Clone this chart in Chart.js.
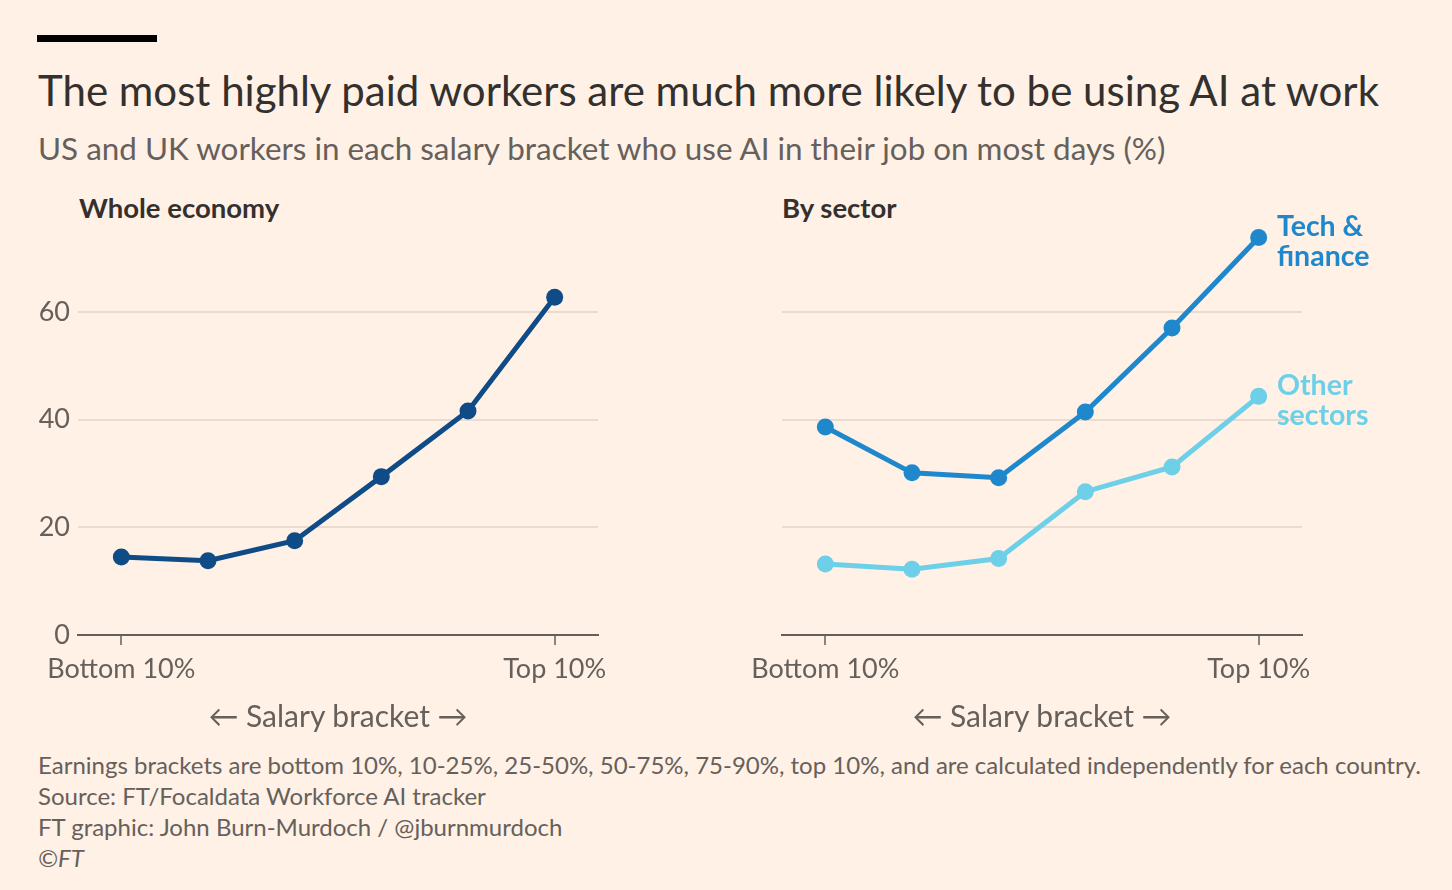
<!DOCTYPE html>
<html>
<head>
<meta charset="UTF-8">
<title>AI use by salary bracket</title>
<script src="https://cdn.jsdelivr.net/npm/chart.js"></script>
<style>
    body {
        margin: 0;
        background: #fff1e5;
        font-family: Lato, 'Open Sans', sans-serif;
        color: #33302e;
    }
    .page { position: relative; width: 1452px; height: 890px; overflow: hidden; }
    .bar { position: absolute; left: 37px; top: 35px; width: 120px; height: 7px; background: #000; }
    .title { position: absolute; left: 38px; top: 65px; font-size: 42px; white-space: nowrap; }
    .subtitle { position: absolute; left: 38px; top: 129px; font-size: 31.4px; color: #66605c; white-space: nowrap; }
    .panel-title { position: absolute; top: 191px; font-size: 27.5px; font-weight: bold; white-space: nowrap; }
    .axis-title { position: absolute; top: 697px; font-size: 30px; color: #66605c; white-space: nowrap; transform: translateX(-50%); }
    .label { position: absolute; left: 1277px; font-size: 28.5px; font-weight: bold; line-height: 30px; }
    .notes { position: absolute; left: 38px; top: 749px; font-size: 24px; line-height: 31px; color: #66605c; white-space: nowrap; }
    canvas { position: absolute; }
</style>
</head>
<body>
<div class="page">
    <div class="bar"></div>
    <div class="title">The most highly paid workers are much more likely to be using AI at work</div>
    <div class="subtitle">US and UK workers in each salary bracket who use AI in their job on most days (%)</div>
    <div class="panel-title" style="left:79px">Whole economy</div>
    <div class="panel-title" style="left:782px">By sector</div>

    <canvas id="leftChart" style="left:0px; top:200px; width:620px; height:500px"></canvas>
    <canvas id="rightChart" style="left:704px; top:200px; width:620px; height:500px"></canvas>

    <div class="axis-title" style="left:338px">&larr; Salary bracket &rarr;</div>
    <div class="axis-title" style="left:1042px">&larr; Salary bracket &rarr;</div>

    <div class="label" style="top:210px; color:#1f88cc">Tech &amp;<br>finance</div>
    <div class="label" style="top:369px; color:#6dd0e8">Other<br>sectors</div>

    <div class="notes">
        Earnings brackets are bottom 10%, 10-25%, 25-50%, 50-75%, 75-90%, top 10%, and are calculated independently for each country.<br>
        Source: FT/Focaldata Workforce AI tracker<br>
        FT graphic: John Burn-Murdoch / @jburnmurdoch<br>
        <i>&copy;FT</i>
    </div>
</div>
<script>
    const brackets = ['Bottom 10%', '10-25%', '25-50%', '50-75%', '75-90%', 'Top 10%'];
    const shownLabels = ['Bottom 10%', '', '', '', '', 'Top 10%'];
    const wholeEconomy = [14.5, 13.8, 17.5, 29.4, 41.6, 62.7];
    const techFinance = [38.6, 30.1, 29.2, 41.4, 57.0, 73.8];
    const otherSectors = [13.2, 12.2, 14.2, 26.6, 31.2, 44.3];
    const yTicks = [0, 20, 40, 60];

    const textColor = '#66605c';
    const gridColor = '#e9dccf';
    const axisColor = '#66605c';

    function lineSet(values, color) {
        return {
            data: values,
            borderColor: color,
            backgroundColor: color,
            borderWidth: 5,
            pointRadius: 8.5,
            pointHoverRadius: 8.5,
            pointBorderWidth: 0,
            tension: 0,
            clip: false
        };
    }

    function makeChart(id, datasets, showY) {
        const ctx = document.getElementById(id).getContext('2d');
        return new Chart(ctx, {
            type: 'line',
            data: { labels: brackets, datasets: datasets },
            options: {
                responsive: false,
                animation: false,
                devicePixelRatio: 1,
                layout: { padding: { top: 31, right: 22, left: 0, bottom: 0 } },
                plugins: { legend: { display: false }, tooltip: { enabled: false } },
                scales: {
                    x: {
                        offset: true,
                        grid: {
                            drawOnChartArea: false,
                            drawTicks: true,
                            tickLength: 10,
                            lineWidth: 2,
                            color: c => (c.index === 0 || c.index === brackets.length - 1) ? '#8a837e' : 'rgba(0,0,0,0)'
                        },
                        border: { display: true, color: axisColor, width: 2 },
                        ticks: {
                            autoSkip: false,
                            maxRotation: 0,
                            padding: 8,
                            color: textColor,
                            font: { family: 'Lato', size: 27 },
                            callback: (v, i) => shownLabels[i]
                        },
                        afterFit: s => { s.height = 65; }
                    },
                    y: {
                        min: 0,
                        max: 75,
                        afterBuildTicks: s => { s.ticks = yTicks.map(v => ({ value: v })); },
                        grid: { color: gridColor, lineWidth: 2, drawTicks: false },
                        border: { display: false },
                        ticks: {
                            display: showY,
                            padding: 8,
                            color: textColor,
                            font: { family: 'Lato', size: 27 }
                        },
                        afterFit: s => { s.width = 78; }
                    }
                }
            }
        });
    }

    function setSize(id) {
        const c = document.getElementById(id);
        c.width = 620; c.height = 500;
    }
    setSize('leftChart');
    setSize('rightChart');

    makeChart('leftChart', [lineSet(wholeEconomy, '#0f4c87')], true);
    makeChart('rightChart', [lineSet(otherSectors, '#6dd0e8'), lineSet(techFinance, '#1f88cc')], false);
</script>
</body>
</html>
